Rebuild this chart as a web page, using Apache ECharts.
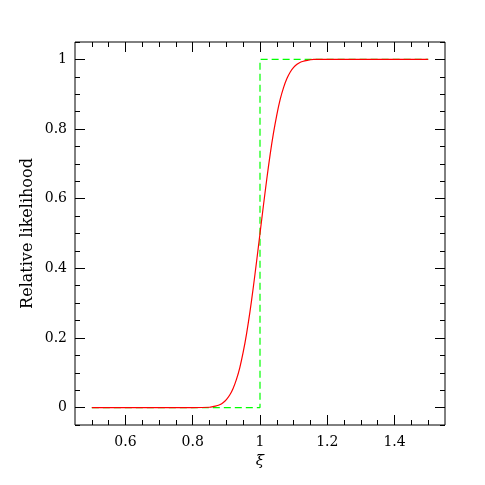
<!DOCTYPE html>
<html>
<head>
<meta charset="utf-8">
<script src="https://cdn.jsdelivr.net/npm/echarts@6/dist/echarts.min.js"></script>
<style>
  html, body { margin: 0; padding: 0; background: #fff; }
  #chart { width: 485px; height: 485px; }
</style>
</head>
<body>
<div id="chart"></div>
<script>
// values
var xiValues = [0.5, 0.8, 0.85, 0.86, 0.87, 0.88, 0.89, 0.9, 0.91, 0.92, 0.93, 0.94, 0.95, 0.96, 0.97, 0.98, 0.99,
                1.0, 1.01, 1.02, 1.03, 1.04, 1.05, 1.06, 1.07, 1.08, 1.09, 1.1, 1.11, 1.12, 1.13, 1.14, 1.15, 1.16, 1.5];
var likelihood = [0, 0, 0.001, 0.003, 0.005, 0.008, 0.014, 0.023, 0.036, 0.055, 0.081, 0.115, 0.159, 0.212, 0.274, 0.345, 0.421,
                  0.5, 0.579, 0.655, 0.726, 0.788, 0.841, 0.885, 0.919, 0.945, 0.964, 0.977, 0.986, 0.992, 0.995, 0.997, 0.999, 1, 1];

// step function (dashed green)
var stepX = [0.5, 1.0, 1.0, 1.5];
var stepY = [0, 0, 1, 1];

// tick positions
var xMajorTicks = [0.6, 0.8, 1, 1.2, 1.4];
var xMinorTicks = [0.5, 0.55, 0.65, 0.7, 0.75, 0.85, 0.9, 0.95, 1.05, 1.1, 1.15, 1.25, 1.3, 1.35, 1.45, 1.5];
var yMajorTicks = [0, 0.2, 0.4, 0.6, 0.8, 1];
var yMinorTicks = [-0.05, 0.05, 0.1, 0.15, 0.25, 0.3, 0.35, 0.45, 0.5, 0.55, 0.65, 0.7, 0.75, 0.85, 0.9, 0.95, 1.05];

function pairs(xs, ys) {
    return xs.map(function (x, i) { return [x, ys[i]]; });
}

var chart = echarts.init(document.getElementById('chart'));
var font = 'DejaVu Serif';

function xAx(pos, ticks, len, showLabel, name) {
    return {
        type: 'value', position: pos, min: 0.45, max: 1.55,
        axisLine: { show: false, onZero: false },
        splitLine: { show: false },
        axisTick: { show: true, inside: true, length: len, customValues: ticks,
                    lineStyle: { color: '#000', width: 1 } },
        axisLabel: { show: showLabel, customValues: ticks, margin: 10,
                     color: '#000', fontFamily: font, fontSize: 14 },
        name: name || '', nameLocation: 'middle', nameGap: 28,
        nameTextStyle: { color: '#000', fontFamily: font, fontSize: 15, fontStyle: 'italic' }
    };
}
function yAx(pos, ticks, len, showLabel, name) {
    return {
        type: 'value', position: pos, min: -0.05, max: 1.05,
        axisLine: { show: false, onZero: false },
        splitLine: { show: false },
        axisTick: { show: true, inside: true, length: len, customValues: ticks,
                    lineStyle: { color: '#000', width: 1 } },
        axisLabel: { show: showLabel, customValues: ticks, margin: 8,
                     color: '#000', fontFamily: font, fontSize: 14 },
        name: name || '', nameLocation: 'middle', nameGap: 39, nameRotate: 90,
        nameMoveOverlap: false,
        nameTextStyle: { color: '#000', fontFamily: font, fontSize: 16 }
    };
}

var option = {
    animation: false,
    grid: { left: 75, top: 42, width: 370, height: 383, show: true,
            borderColor: '#000', borderWidth: 1, backgroundColor: 'transparent' },
    xAxis: [
        xAx('bottom', xMajorTicks, 10, true, 'ξ'),
        xAx('bottom', xMinorTicks, 5, false),
        xAx('top', xMajorTicks, 10, false),
        xAx('top', xMinorTicks, 5, false)
    ],
    yAxis: [
        yAx('left', yMajorTicks, 10, true, 'Relative likelihood'),
        yAx('left', yMinorTicks, 5, false),
        yAx('right', yMajorTicks, 10, false),
        yAx('right', yMinorTicks, 5, false)
    ],
    series: [
        {
            type: 'line', data: pairs(stepX, stepY), showSymbol: false,
            lineStyle: { color: '#00ff00', width: 1.2, type: [7, 4] }
        },
        {
            type: 'line', data: pairs(xiValues, likelihood), showSymbol: false, smooth: 0.3,
            lineStyle: { color: '#ff0000', width: 1.2 }
        }
    ]
};
chart.setOption(option);
</script>
</body>
</html>
